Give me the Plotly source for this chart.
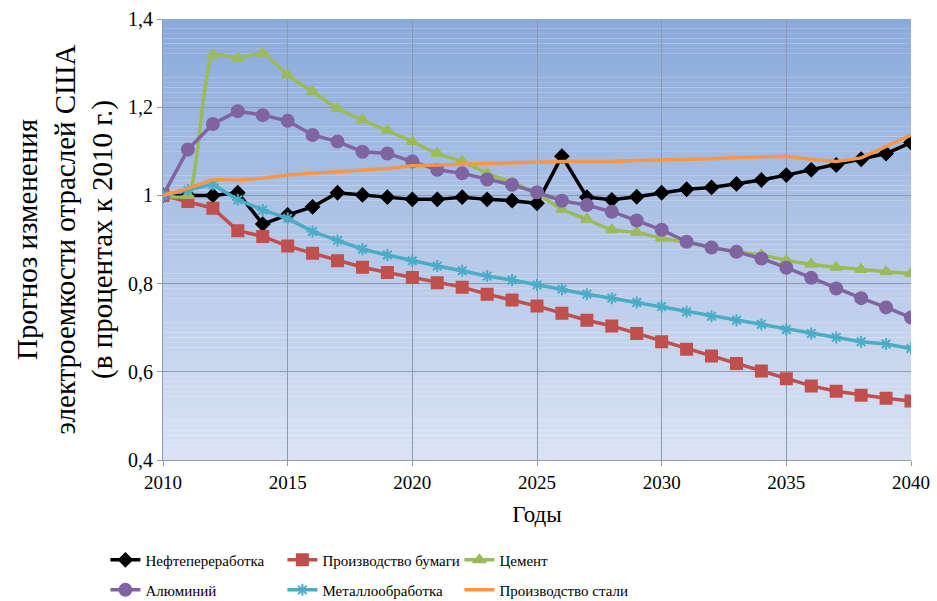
import plotly.graph_objects as go

# Forecast years
years = list(range(2010, 2041))

# Electricity intensity relative to 2010 (2010 = 1)
refining = [1.00, 1.00, 1.00, 1.006, 0.935, 0.956, 0.974, 1.006, 1.001, 0.996,
            0.991, 0.991, 0.996, 0.991, 0.988, 0.982, 1.089, 0.996, 0.990, 0.997,
            1.006, 1.014, 1.018, 1.026, 1.035, 1.046, 1.058, 1.069, 1.082, 1.095,
            1.120]
paper = [1.00, 0.986, 0.971, 0.920, 0.907, 0.885, 0.869, 0.852, 0.837, 0.825,
         0.814, 0.802, 0.792, 0.776, 0.763, 0.749, 0.733, 0.717, 0.704, 0.687,
         0.668, 0.651, 0.636, 0.619, 0.602, 0.584, 0.568, 0.556, 0.547, 0.540,
         0.534]
cement = [1.00, 1.00, 1.318, 1.311, 1.322, 1.273, 1.235, 1.197, 1.171, 1.147,
          1.122, 1.095, 1.077, 1.050, 1.029, 1.005, 0.968, 0.946, 0.922, 0.916,
          0.903, 0.893, 0.882, 0.872, 0.865, 0.853, 0.844, 0.837, 0.832, 0.827,
          0.823]
aluminium = [1.00, 1.104, 1.162, 1.191, 1.182, 1.169, 1.137, 1.122, 1.099, 1.095,
             1.077, 1.058, 1.050, 1.036, 1.024, 1.007, 0.988, 0.978, 0.963, 0.943,
             0.922, 0.895, 0.882, 0.872, 0.857, 0.836, 0.813, 0.789, 0.767, 0.746,
             0.723]
metalwork = [1.00, 1.012, 1.025, 0.990, 0.967, 0.948, 0.918, 0.898, 0.878, 0.865,
             0.852, 0.840, 0.829, 0.817, 0.808, 0.797, 0.787, 0.776, 0.767, 0.757,
             0.748, 0.736, 0.726, 0.717, 0.708, 0.696, 0.687, 0.678, 0.668, 0.663,
             0.653]
steel = [1.00, 1.016, 1.036, 1.035, 1.039, 1.046, 1.050, 1.054, 1.058, 1.061,
         1.067, 1.069, 1.071, 1.073, 1.074, 1.075, 1.077, 1.077, 1.077, 1.079,
         1.080, 1.082, 1.083, 1.086, 1.088, 1.089, 1.082, 1.077, 1.085, 1.110,
         1.137]

y_ticks = [0.4, 0.6, 0.8, 1.0, 1.2, 1.4]
y_tick_text = ["0,4", "0,6", "0,8", "1", "1,2", "1,4"]
x_ticks = [2010, 2015, 2020, 2025, 2030, 2035, 2040]

FONT = "Liberation Serif, Times New Roman, serif"

series = [
    # name, values, color, marker symbol, marker size, legend, line shape
    ("Нефтепереработка", refining, "#000000", "diamond", 10, "legend", "linear"),
    ("Производство бумаги", paper, "#C0504D", "square", 11, "legend", "linear"),
    ("Цемент", cement, "#9BBB59", "triangle-up", 10, "legend", "spline"),
    ("Алюминий", aluminium, "#8064A2", "circle", 12, "legend2", "linear"),
    ("Металлообработка", metalwork, "#4BACC6", "asterisk-open", 10, "legend2", "linear"),
    ("Производство стали", steel, "#F79646", None, 0, "legend2", "linear"),
]

fig = go.Figure()
for name, vals, color, symbol, msize, leg, shape in series:
    if symbol is None:
        fig.add_trace(go.Scatter(
            x=years, y=vals, name=name, mode="lines", legend=leg,
            line=dict(color=color, width=3.5, shape=shape),
        ))
    else:
        fig.add_trace(go.Scatter(
            x=years, y=vals, name=name, mode="lines+markers", legend=leg,
            line=dict(color=color, width=3.5, shape=shape, smoothing=0.6),
            marker=dict(symbol=symbol, size=msize, color=color,
                        line=dict(color=color, width=2)),
        ))

# Vertical blue gradient behind the plot area
top_rgb = (138, 170, 219)
bot_rgb = (218, 227, 244)
n_strips = 90
for i in range(n_strips):
    t = i / (n_strips - 1)
    r = round(bot_rgb[0] + (top_rgb[0] - bot_rgb[0]) * t)
    g = round(bot_rgb[1] + (top_rgb[1] - bot_rgb[1]) * t)
    b = round(bot_rgb[2] + (top_rgb[2] - bot_rgb[2]) * t)
    fig.add_shape(
        type="rect", xref="x domain", yref="y domain",
        x0=0, x1=1, y0=i / n_strips, y1=(i + 1.02) / n_strips,
        fillcolor=f"rgb({r},{g},{b})", line=dict(width=0), layer="below",
    )

legend_common = dict(
    orientation="h", xanchor="left", yanchor="middle",
    font=dict(family=FONT, size=15, color="#000000"),
    entrywidth=132, entrywidthmode="pixels", itemwidth=30,
    bgcolor="rgba(0,0,0,0)", tracegroupgap=0,
)

fig.update_layout(
    width=937, height=601,
    margin=dict(l=163, r=26, t=19, b=141, autoexpand=False),
    paper_bgcolor="white",
    plot_bgcolor="white",
    font=dict(family=FONT, color="#000000"),
    showlegend=True,
    legend=dict(x=-0.077, y=-0.227, **legend_common),
    legend2=dict(x=-0.077, y=-0.295, **legend_common),
    xaxis=dict(
        range=[2010, 2040], tickvals=x_ticks,
        showgrid=True, gridcolor="#8E9AAE", gridwidth=1,
        showline=True, linecolor="#8E9AAE", linewidth=1,
        ticks="outside", ticklen=5, tickcolor="#8E9AAE",
        tickfont=dict(family=FONT, size=19, color="#000000"),
        title=dict(text="Годы", font=dict(family=FONT, size=23), standoff=14),
        zeroline=False,
    ),
    yaxis=dict(
        range=[0.4, 1.4], tickvals=y_ticks, ticktext=y_tick_text,
        showgrid=True, gridcolor="#8E9AAE", gridwidth=1,
        showline=True, linecolor="#8E9AAE", linewidth=1,
        ticks="outside", ticklen=5, tickcolor="#8E9AAE",
        tickfont=dict(family=FONT, size=20, color="#000000"),
        title=dict(
            text="Прогноз изменения<br>электроемкости отраслей США<br>(в процентах к 2010 г.)",
            font=dict(family=FONT, size=29), standoff=6,
        ),
        zeroline=False,
    ),
)

fig.write_html("out.html")
